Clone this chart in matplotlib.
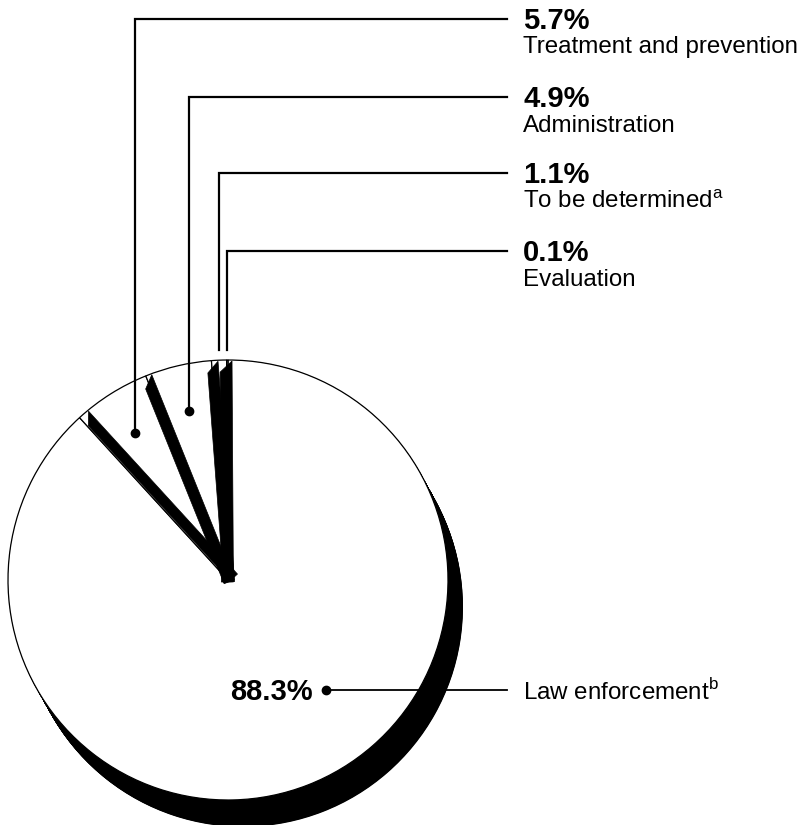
import numpy as np
import matplotlib
matplotlib.use('Agg')
import matplotlib.pyplot as plt
from matplotlib.patches import Wedge, Polygon

plt.rcParams['font.family'] = ['Liberation Sans', 'DejaVu Sans']
plt.rcParams['mathtext.fontset'] = 'custom'
plt.rcParams['mathtext.rm'] = 'Liberation Sans'

# datos del grafico
valores = [88.3, 5.7, 4.9, 1.1, 0.1]
etiquetas_pct = ['88.3%', '5.7%', '4.9%', '1.1%', '0.1%']
nombres = ['Law enforcement', 'Treatment and prevention', 'Administration',
           'To be determined', 'Evaluation']
notas = ['b', '', '', 'a', '']

W, H = 807, 825
centro = np.array([228.0, H - 580.0])
radio = 220
prof = (15, -27)   # desplazamiento de la "sombra" 3d

fig = plt.figure(figsize=(W / 100, H / 100), dpi=100)
ax = fig.add_axes([0, 0, 1, 1])
ax.set_xlim(0, W)
ax.set_ylim(0, H)
ax.set_aspect('equal')
ax.axis('off')

# angulos de cada porcion, en sentido horario desde arriba
total = sum(valores)
angulos = []
ini = 90.0
for v in valores:
    fin = ini - v / total * 360
    angulos.append((fin, ini))
    ini = fin

# porcion grande con su espesor
t1, t2 = angulos[0]
for k in np.linspace(1, 0, 60):
    c = (centro[0] + k * prof[0], centro[1] + k * prof[1])
    ax.add_patch(Wedge(c, radio, t1, t2, facecolor='black',
                       edgecolor='none', zorder=1))
ax.add_patch(Wedge(centro, radio, t1, t2, facecolor='white',
                   edgecolor='black', lw=0.9, zorder=2))

# porciones chicas
for i in [1, 2, 3, 4]:
    t1, t2 = angulos[i]
    ax.add_patch(Wedge(centro, radio, t1, t2, facecolor='white',
                       edgecolor='black', lw=0.9, zorder=3))

# caras laterales (bandas negras) en los bordes de las porciones chicas
# (corrimiento lateral desde el borde, en px)
bandas = [(angulos[1][1], 1, 11), (angulos[2][1], -5, 6),
          (angulos[3][1], -4.5, 6.5), (angulos[4][1], -6.6, 5.4)]
for ang, s1, s2 in bandas:
    a = np.radians(ang)
    u = np.array([np.cos(a), np.sin(a)])
    n = np.array([np.sin(a), -np.cos(a)])
    r1 = np.sqrt(radio ** 2 - s1 ** 2) - 12
    r2 = np.sqrt(radio ** 2 - s2 ** 2) - 1
    pts = [centro + s1 * n - 2 * u, centro + s2 * n - 2 * u,
           centro + s2 * n + r2 * u, centro + s1 * n + r1 * u]
    ax.add_patch(Polygon(pts, closed=True, facecolor='black',
                         edgecolor='black', lw=0.5, zorder=4))

# lineas guia de las porciones chicas
niveles = [19, 97, 173, 251]
x_fin = 507
x_txt = 523
for j, i in enumerate([1, 2, 3, 4]):
    t1, t2 = angulos[i]
    bis = np.radians((t1 + t2) / 2)
    y_lin = H - niveles[j]
    if i in (1, 2):
        rr = 0.79 * radio
        x0 = centro[0] + rr * np.cos(bis)
        y0 = centro[1] + rr * np.sin(bis)
        ax.plot([x0], [y0], 'o', color='black', ms=6, zorder=20)
    else:
        rr = 1.045 * radio
        x0 = centro[0] + rr * np.cos(bis)
        y0 = centro[1] + rr * np.sin(bis)
    ax.plot([x0, x0, x_fin], [y0, y_lin, y_lin], color='black', lw=1.6,
            solid_joinstyle='miter', zorder=20)
    ax.text(x_txt, y_lin + 1, etiquetas_pct[i], fontsize=21, fontweight='bold',
            ha='left', va='center_baseline', zorder=21)
    txt = nombres[i]
    if notas[i]:
        txt = txt + r'$^{\mathrm{' + notas[i] + '}}$'
    ax.text(x_txt, y_lin - 26, txt, fontsize=17.4, ha='left',
            va='center_baseline', zorder=21)

# porcion grande
y_main = H - 690
x_dot = 326
ax.plot([x_dot], [y_main], 'o', color='black', ms=6, zorder=20)
ax.plot([x_dot, x_fin], [y_main, y_main], color='black', lw=1.3, zorder=20)
ax.text(x_dot - 13, y_main + 1, etiquetas_pct[0], fontsize=21, fontweight='bold',
        ha='right', va='center_baseline', zorder=21)
ax.text(x_txt, y_main + 1, nombres[0] + r'$^{\mathrm{' + notas[0] + '}}$',
        fontsize=17.4, ha='left', va='center_baseline', zorder=21)

fig.savefig('out.png', dpi=100, facecolor='white')
